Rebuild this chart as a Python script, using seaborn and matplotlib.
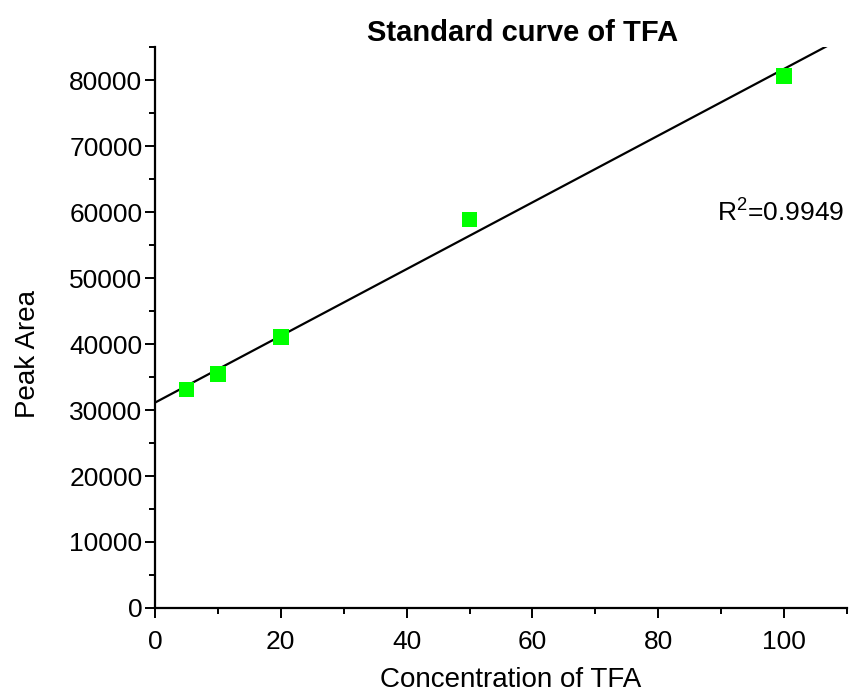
import numpy as np
import pandas as pd
import matplotlib
matplotlib.use('Agg')
import matplotlib.pyplot as plt
from matplotlib.ticker import MultipleLocator
import seaborn as sns

# ---- data ----
concentration = [5, 10, 20, 50, 100]
peak_area = [33100, 35500, 41100, 58900, 80600]
r2_text = 'R$^2$=0.9949'

df = pd.DataFrame({'conc': concentration, 'area': peak_area})

# ---- style ----
sns.set_style('ticks')
plt.rcParams['font.family'] = ['Liberation Sans Narrow', 'Liberation Sans', 'DejaVu Sans']
plt.rcParams['mathtext.fontset'] = 'custom'
plt.rcParams['mathtext.rm'] = 'Liberation Sans'
for key in ['text.color', 'axes.labelcolor', 'xtick.color', 'ytick.color', 'axes.edgecolor']:
    plt.rcParams[key] = 'black'

fig = plt.figure(figsize=(8.56, 6.94), dpi=100)
ax = fig.add_axes([0.181, 0.124, 0.8085, 0.808])

ax.set_xlim(0, 110)
ax.set_ylim(0, 85000)

# linear fit across the whole x range
slope, intercept = np.polyfit(df['conc'], df['area'], 1)
xs = np.array(ax.get_xlim())
fit = pd.DataFrame({'conc': xs, 'area': slope * xs + intercept})
sns.lineplot(data=fit, x='conc', y='area', color='black', linewidth=1.6, ax=ax, zorder=2)

sns.scatterplot(data=df, x='conc', y='area', marker='s', s=125, color='#00ff00',
                edgecolor='none', ax=ax, zorder=3)

ax.text(89.3, 60000, r2_text, fontsize=19, va='center', ha='left')

# ---- axes ----
sns.despine(ax=ax)
for side in ['left', 'bottom']:
    ax.spines[side].set_linewidth(1.6)
ax.xaxis.set_major_locator(MultipleLocator(20))
ax.xaxis.set_minor_locator(MultipleLocator(10))
ax.yaxis.set_major_locator(MultipleLocator(10000))
ax.yaxis.set_minor_locator(MultipleLocator(5000))
ax.tick_params(which='major', length=7, width=1.4, labelsize=19, direction='out')
ax.tick_params(which='minor', length=4, width=1.4, direction='out')
ax.tick_params(axis='x', pad=9)
ax.tick_params(axis='y', pad=2)

ax.set_xlabel('')
ax.set_ylabel('')
fig.text(0.596, 0.02, 'Concentration of TFA', fontsize=20, ha='center', va='center')
fig.text(0.033, 0.49, 'Peak Area', fontsize=20, rotation=90, ha='center', va='center')
fig.text(0.611, 0.952, 'Standard curve of TFA', fontsize=21, fontweight='bold',
         ha='center', va='center')

fig.savefig('out.png', dpi=100)
plt.close(fig)
